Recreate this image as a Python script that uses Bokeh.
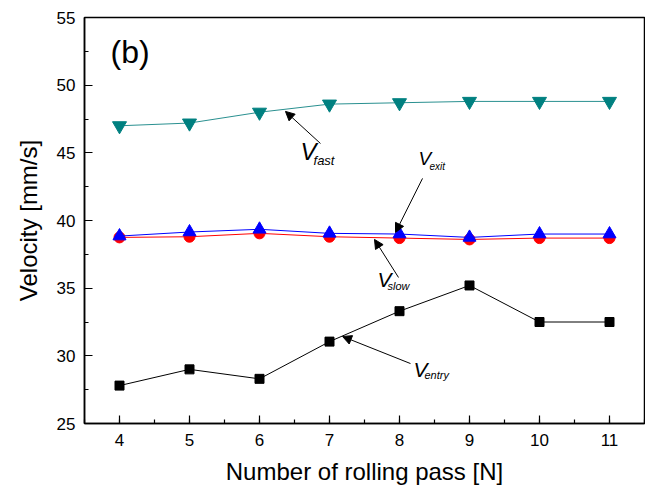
from bokeh.plotting import figure
from bokeh.models import Range1d, SingleIntervalTicker, Arrow, NormalHead
from bokeh.core.properties import value
from bokeh.embed import file_html
from bokeh.resources import INLINE

passes = [4, 5, 6, 7, 8, 9, 10, 11]
v_fast = [47.0, 47.2, 48.0, 48.6, 48.7, 48.8, 48.8, 48.8]
v_exit = [38.85, 39.15, 39.35, 39.05, 39.0, 38.75, 39.0, 39.0]
v_slow = [38.75, 38.8, 39.05, 38.8, 38.7, 38.6, 38.7, 38.7]
v_entry = [27.8, 29.0, 28.3, 31.05, 33.3, 35.2, 32.5, 32.5]

# annotation labels: (main symbol anchor x, y), subscript text, font sizes
labels = [
    dict(x=6.586, y=45.10, sub="fast", big="24px", small="13px", dx=13, dy=9),
    dict(x=8.271, y=44.60, sub="exit", big="19px", small="10px", dx=11, dy=8),
    dict(x=7.686, y=35.65, sub="slow", big="21px", small="11px", dx=10, dy=7),
    dict(x=8.200, y=29.00, sub="entry", big="21px", small="11px", dx=11, dy=6),
]
# arrows: (tail x, tail y, head x, head y)
arrows = [
    (6.871, 45.69, 6.371, 48.06),
    (8.329, 43.11, 7.943, 39.12),
    (7.986, 35.79, 7.643, 38.60),
    (8.157, 29.43, 7.186, 31.43),
]

FONT = "Liberation Sans"

p = figure(width=645, height=489, output_backend="svg", toolbar_location=None,
           x_range=Range1d(3.5, 11.5), y_range=Range1d(25, 55),
           min_border_left=84, min_border_right=1, min_border_top=17, min_border_bottom=66)
p.background_fill_color = "white"
p.border_fill_color = "white"
p.outline_line_color = "black"
p.outline_line_width = 1.5
p.xgrid.visible = False
p.ygrid.visible = False

p.xaxis.ticker = SingleIntervalTicker(interval=1, num_minor_ticks=2)
p.yaxis.ticker = SingleIntervalTicker(interval=5, num_minor_ticks=2)
for ax in (p.xaxis, p.yaxis):
    ax.major_tick_in = 8
    ax.major_tick_out = 0
    ax.minor_tick_in = 4
    ax.minor_tick_out = 0
    ax.axis_line_width = 1.5
    ax.major_tick_line_width = 1.2
    ax.minor_tick_line_width = 1.2
    ax.major_label_text_font = FONT
    ax.major_label_text_font_size = "17px"
    ax.major_label_text_color = "black"
    ax.axis_label_text_font = FONT
    ax.axis_label_text_font_size = "24px"
    ax.axis_label_text_font_style = "normal"
    ax.axis_label_text_color = "black"
p.xaxis.axis_label = "Number of rolling pass [N]"
p.yaxis.axis_label = "Velocity [mm/s]"
p.xaxis.major_label_standoff = 10
p.xaxis.axis_label_standoff = 9
p.yaxis.major_label_standoff = 9
p.yaxis.axis_label_standoff = 12

# series
p.line(passes, v_fast, line_color="#2a9090", line_width=1)
p.scatter(passes, v_fast, marker="inverted_triangle", size=14, fill_color="#008080", line_color="#008080")

p.line(passes, v_slow, line_color="#FF0000", line_width=1)
p.scatter(passes, v_slow, marker="circle", size=11, fill_color="#FF0000", line_color="#FF0000")

p.line(passes, v_exit, line_color="#0000FF", line_width=1)
p.scatter(passes, v_exit, marker="triangle", size=13, fill_color="#0000FF", line_color="#0000FF")

p.line(passes, v_entry, line_color="black", line_width=1)
p.scatter(passes, v_entry, marker="square", size=9, fill_color="black", line_color="black")

# panel label
p.text(x=[3.871], y=[52.45], text=["(b)"], text_font=value(FONT), text_font_size="32px",
       text_color="black", text_align="left", text_baseline="alphabetic")

for (x0, y0, x1, y1) in arrows:
    p.add_layout(Arrow(end=NormalHead(size=9, fill_color="black", line_color="black", line_width=1),
                       x_start=x0, y_start=y0, x_end=x1, y_end=y1,
                       line_color="black", line_width=1))

for lab in labels:
    p.text(x=[lab["x"]], y=[lab["y"]], text=["V"], text_font=value(FONT),
           text_font_size=lab["big"], text_font_style="italic", text_color="black",
           text_align="left", text_baseline="alphabetic")
    p.text(x=[lab["x"]], y=[lab["y"]], text=[lab["sub"]], text_font=value(FONT),
           text_font_size=lab["small"], text_font_style="italic", text_color="black",
           text_align="left", text_baseline="alphabetic",
           x_offset=lab["dx"], y_offset=lab["dy"])

open("out.html", "w").write(file_html(p, INLINE))
